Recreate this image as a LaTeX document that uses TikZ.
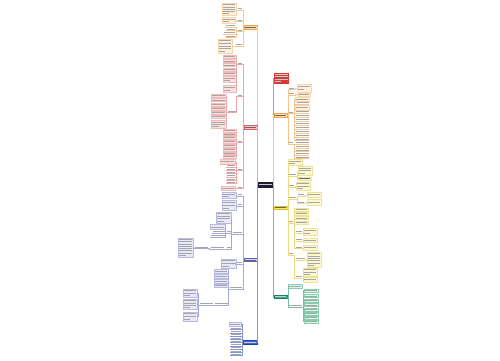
\documentclass[tikz,border=0pt]{standalone}
\definecolor{cNavy}{RGB}{28,28,58}
\definecolor{cOfill}{RGB}{253,224,176}
\definecolor{cOline}{RGB}{240,160,70}
\definecolor{cOleaf}{RGB}{254,240,220}
\definecolor{cOleafl}{RGB}{247,215,170}
\definecolor{cPfill}{RGB}{248,198,198}
\definecolor{cPline}{RGB}{225,95,95}
\definecolor{cPleaf}{RGB}{252,224,224}
\definecolor{cPleafl}{RGB}{243,185,185}
\definecolor{cLfill}{RGB}{216,216,242}
\definecolor{cLline}{RGB}{95,95,190}
\definecolor{cLleaf}{RGB}{232,232,250}
\definecolor{cLleafl}{RGB}{185,185,230}
\definecolor{cBfill}{RGB}{60,105,220}
\definecolor{cBline}{RGB}{35,65,175}
\definecolor{cRfill}{RGB}{218,55,55}
\definecolor{cYfill}{RGB}{250,232,110}
\definecolor{cYline}{RGB}{225,195,40}
\definecolor{cYleaf}{RGB}{253,247,210}
\definecolor{cYleafl}{RGB}{238,226,150}
\definecolor{cGfill}{RGB}{45,178,140}
\definecolor{cGline}{RGB}{25,130,100}
\definecolor{cGleaf}{RGB}{222,243,234}
\definecolor{cGleafl}{RGB}{135,205,175}
\tikzset{
  mmbase/.style={rectangle, inner sep=0pt, outer sep=0pt, line width=0.3pt},
  mainC/.style={mmbase, fill=cNavy, draw=cNavy},
  mainO/.style={mmbase, fill=cOfill, draw=cOline},
  mainP/.style={mmbase, fill=cPfill, draw=cPline},
  mainL/.style={mmbase, fill=cLfill, draw=cLline},
  mainB/.style={mmbase, fill=cBfill, draw=cBline},
  mainR/.style={mmbase, fill=cRfill, draw=cRfill},
  mainY/.style={mmbase, fill=cYfill, draw=cYline},
  mainG/.style={mmbase, fill=cGfill, draw=cGline},
  leafO/.style={mmbase, fill=cOleaf, draw=cOleafl},
  leafP/.style={mmbase, fill=cPleaf, draw=cPleafl},
  leafL/.style={mmbase, fill=cLleaf, draw=cLleafl},
  leafY/.style={mmbase, fill=cYleaf, draw=cYleafl},
  leafG/.style={mmbase, fill=cGleaf, draw=cGleafl},
  mmpt/.style={inner sep=0pt, outer sep=0pt, minimum height=0pt},
  txt/.style={line width=0.9pt, black!35},
  txtD/.style={line width=0.9pt, black!60},
  txtW/.style={line width=0.9pt, white!80!black},
  eO/.style={draw=cOline!60, line width=0.3pt},
  eP/.style={draw=cPline!55, line width=0.3pt},
  eL/.style={draw=cLline!55, line width=0.3pt},
  eB/.style={draw=cBline!55, line width=0.3pt},
  eR/.style={draw=cRfill!60, line width=0.3pt},
  eY/.style={draw=cYline!60, line width=0.3pt},
  eG/.style={draw=cGline!55, line width=0.3pt},
}
% box node with greeked text lines: name, style, x1, y1, x2, y2, text style
\newcommand\mmbox[7]{%
  \pgfmathsetmacro\mmw{(#5)-(#3)}\pgfmathsetmacro\mmh{(#6)-(#4)}%
  \node[#2, minimum width=\mmw pt, minimum height=\mmh pt, anchor=north west] (#1) at (#3,#4) {};
  \pgfmathtruncatemacro\mmn{max(1,floor((\mmh-1.2)/2.2))}%
  \pgfmathsetmacro\mms{(\mmh-1.2)/\mmn}%
  \foreach \i in {1,...,\mmn}{%
    \pgfmathsetmacro\mmy{(#4)+0.6+(\i-0.5)*\mms}%
    \pgfmathsetmacro\mmx{ifthenelse(\i==\mmn && \mmn>1, (#3)+1+0.5*(\mmw-2), (#5)-1)}%
    \draw[#7] ({(#3)+1},\mmy) -- (\mmx,\mmy);
  }%
}
% underlined one-line node: name, edge style, x1, y, x2
\newcommand\mmline[5]{%
  \pgfmathsetmacro\mmw{(#5)-(#3)}%
  \node[mmpt, minimum width=\mmw pt] (#1) at ({(#3+#5)/2},#4) {};
  \draw[txt] ({(#3)+0.5},{(#4)-1.1}) -- ({(#5)-0.5},{(#4)-1.1});
  \draw[#2] (#3,#4) -- (#5,#4);
}
\newcommand\lk[3]{\draw[#1] (#2.west) -- ++(-0.8,0) |- (#3.east);}
\newcommand\rk[3]{\draw[#1] (#2.east) -- ++(0.8,0) |- (#3.west);}
\begin{document}
\begin{tikzpicture}[x=1pt,y=-1pt]
\fill[white] (0,0) rectangle (500,360);
\useasboundingbox (0,0) rectangle (500,360);

\mmbox{C}{mainC}{258}{182.5}{272.5}{187}{txtW}

% left, orange
\mmbox{lo}{mainO}{244}{25.5}{257}{29.5}{txtD}
\draw[eO] (C.west) -- ++(-0.8,0) |- (lo.east);
\mmline{lo1}{eO}{237}{10}{242}
\mmline{lo2}{eO}{237}{21.5}{242}
\mmline{lo3}{eO}{237}{31.5}{242}
\mmline{lo4}{eO}{235}{46}{242}
\foreach \n in {lo1,lo2,lo3,lo4} \lk{eO}{lo}{\n};
\mmbox{lo1a}{leafO}{222}{3}{236}{15.5}{txt}
\mmbox{lo2a}{leafO}{222}{17.5}{235.5}{23.5}{txt}
\mmline{lo3a}{eO}{225}{27}{235}
\mmline{lo3b}{eO}{226}{30.5}{235}
\mmline{lo3c}{eO}{223}{34}{235}
\mmline{lo3d}{eO}{225}{37.5}{235}
\mmbox{lo4a}{leafO}{218}{39}{232}{53}{txt}
\lk{eO}{lo1}{lo1a}
\lk{eO}{lo2}{lo2a}
\foreach \n in {lo3a,lo3b,lo3c,lo3d} \lk{eO}{lo3}{\n};
\lk{eO}{lo4}{lo4a}

% left, pink
\mmbox{lp}{mainP}{244}{125}{257}{129}{txtD}
\draw[eP] (C.west) -- ++(-0.8,0) |- (lp.east);
\mmline{lp1}{eP}{237}{64.5}{242}
\mmline{lp2}{eP}{237}{96.5}{242}
\mmline{lp3}{eP}{237}{142.5}{242}
\mmline{lp4}{eP}{237}{170.5}{242}
\mmline{lp5}{eP}{237}{188.5}{242}
\foreach \n in {lp1,lp2,lp3,lp4,lp5} \lk{eP}{lp}{\n};
\foreach \y [count=\k] in {56.5,61,65,69.5,73.5}{
  \mmbox{lp1x\k}{leafP}{223}{\y-1.5}{236}{\y+1.5}{txt}
  \lk{eP}{lp1}{lp1x\k}
}
\mmbox{lp1f}{leafP}{223}{76.5}{236}{82.5}{txt}
\mmbox{lp1g}{leafP}{223}{85}{236}{92.5}{txt}
\lk{eP}{lp1}{lp1f}
\lk{eP}{lp1}{lp1g}
\mmline{lp2a}{eP}{227}{112.5}{236}
\lk{eP}{lp2}{lp2a}
\foreach \y [count=\k] in {95.7,100,104.3,108.3,112.7,116.7}{
  \mmbox{lp2x\k}{leafP}{211}{\y-1.5}{226}{\y+1.5}{txt}
  \lk{eP}{lp2a}{lp2x\k}
}
\mmbox{lp2g}{leafP}{211}{120.5}{226}{128.5}{txt}
\lk{eP}{lp2a}{lp2g}
\foreach \y [count=\k] in {130.7,134.2,137.7,141.5,145.5,149.3,153.1,156.7}{
  \mmbox{lp3x\k}{leafP}{223}{\y-1.4}{236}{\y+1.4}{txt}
  \lk{eP}{lp3}{lp3x\k}
}
\mmbox{lp4a}{leafP}{220}{159.5}{235}{164}{txt}
\lk{eP}{lp4}{lp4a}
\foreach \y [count=\k] in {167,170.3,173.6,177,180.3,183.5}{
  \mmline{lp4x\k}{eP}{226}{\y}{235}
  \lk{eP}{lp4}{lp4x\k}
}
\mmbox{lp5a}{leafP}{221}{186.3}{235}{190.3}{txt}
\lk{eP}{lp5}{lp5a}

% left, lavender
\mmbox{ll}{mainL}{244}{258.5}{257}{261.5}{txtD}
\draw[eL] (C.west) -- ++(-0.8,0) |- (ll.east);
\mmline{ll1}{eL}{237}{196}{242}
\mmline{ll2}{eL}{237}{206}{242}
\mmline{ll3}{eL}{232}{234}{242}
\mmline{ll4}{eL}{236}{264}{242}
\mmline{ll5}{eL}{229}{289}{242}
\foreach \n in {ll1,ll2,ll3,ll4,ll5} \lk{eL}{ll}{\n};
\mmbox{ll1a}{leafL}{222}{192.5}{236}{198.5}{txt}
\mmbox{ll2a}{leafL}{222}{200.5}{236}{210}{txt}
\lk{eL}{ll1}{ll1a}
\lk{eL}{ll2}{ll2a}
\mmbox{ll3a}{leafL}{216}{212}{231}{223}{txt}
\mmline{ll3b}{eL}{226}{233}{231}
\mmline{ll3c}{eL}{226}{249}{231}
\foreach \n in {ll3a,ll3b,ll3c} \lk{eL}{ll3}{\n};
\mmbox{ll3b1}{leafL}{210}{224.5}{225}{229.5}{txt}
\mmline{ll3b2}{eL}{212}{233}{225}
\mmline{ll3b3}{eL}{210}{237}{225}
\foreach \n in {ll3b1,ll3b2,ll3b3} \lk{eL}{ll3b}{\n};
\mmline{ll3d}{eL}{210}{249}{224}
\mmline{ll3e}{eL}{194}{248.5}{208}
\mmbox{ll3f}{leafL}{178}{238}{193}{257}{txt}
\lk{eL}{ll3c}{ll3d}
\lk{eL}{ll3d}{ll3e}
\lk{eL}{ll3e}{ll3f}
\mmbox{ll4a}{leafL}{221}{259}{236}{268}{txt}
\lk{eL}{ll4}{ll4a}
\foreach \y [count=\k] in {271,276,281,285.5}{
  \mmbox{ll5x\k}{leafL}{214}{\y-1.7}{228}{\y+1.7}{txt}
  \lk{eL}{ll5}{ll5x\k}
}
\mmline{ll5e}{eL}{214}{305}{228}
\mmline{ll5f}{eL}{199}{305}{213}
\lk{eL}{ll5}{ll5e}
\lk{eL}{ll5e}{ll5f}
\mmbox{ll5g}{leafL}{183}{289}{197}{297.5}{txt}
\mmbox{ll5h}{leafL}{183}{299}{197}{309.5}{txt}
\mmbox{ll5i}{leafL}{183}{312}{197}{321}{txt}
\foreach \n in {ll5g,ll5h,ll5i} \lk{eL}{ll5f}{\n};

% left, blue
\mmbox{lb}{mainB}{243}{340}{257}{344.5}{txtW}
\draw[eB] (C.west) -- ++(-0.8,0) |- (lb.east);
\mmbox{lb0}{leafL}{229}{322}{241}{326.5}{txt}
\lk{eB}{lb}{lb0}
\foreach \y [count=\k] in {329.5,332.7,336,339.2,342.5,345.7,349,352.2,355.5}{
  \mmline{lbx\k}{eB}{230}{\y}{241}
  \lk{eB}{lb}{lbx\k}
}

% right, red
\mmbox{rr}{mainR}{274}{73}{288.5}{83}{txtW}
\draw[eR] (C.east) -- ++(0.8,0) |- (rr.west);

% right, orange
\mmbox{ro}{mainO}{274}{113.5}{287}{117}{txtD}
\draw[eO] (C.east) -- ++(0.8,0) |- (ro.west);
\mmline{ro1}{eO}{288.5}{89.5}{294}
\mmline{ro2}{eO}{288.5}{95}{294}
\mmline{ro3}{eO}{288.5}{113.5}{293}
\mmline{ro4}{eO}{288.5}{144}{293}
\foreach \n in {ro1,ro2,ro3,ro4} \rk{eO}{ro}{\n};
\mmbox{ro1a}{leafO}{297}{84.3}{311}{91.7}{txt}
\mmbox{ro2a}{leafO}{298}{92.8}{310}{95.8}{txt}
\rk{eO}{ro1}{ro1a}
\rk{eO}{ro2}{ro2a}
\mmbox{ro3a}{leafO}{295}{97.5}{309}{101.5}{txt}
\mmline{ro3b}{eO}{296}{104}{309}
\mmbox{ro3c}{leafO}{295}{105.5}{309}{110}{txt}
\foreach \n in {ro3a,ro3b,ro3c} \rk{eO}{ro3}{\n};
\foreach \y [count=\k] in {113,117,121,125,129,133,137,140.5}{
  \mmline{ro3x\k}{eO}{295}{\y}{309}
  \rk{eO}{ro3}{ro3x\k}
}
\foreach \y [count=\k] in {144,147.7,151.5,155,158.5}{
  \mmline{ro4x\k}{eO}{295}{\y}{309}
  \rk{eO}{ro4}{ro4x\k}
}

% right, yellow
\mmbox{ry}{mainY}{274}{206}{287}{209.5}{txtD}
\draw[eY] (C.east) -- ++(0.8,0) |- (ry.west);
\mmbox{ry1}{leafY}{288}{159.5}{302}{165.5}{txt}
\mmline{ry2}{eY}{288}{176}{296}
\mmline{ry3}{eY}{288}{187}{294}
\mmline{ry4}{eY}{288}{199}{296}
\mmline{ry5}{eY}{288}{223}{293}
\mmline{ry6}{eY}{288}{255}{293}
\foreach \n in {ry1,ry2,ry3,ry4,ry5,ry6} \rk{eY}{ry}{\n};
\mmbox{ry2a}{leafY}{298}{166}{312}{175.5}{txt}
\mmbox{ry2b}{leafY}{298}{177}{311}{180.5}{txtD}
\rk{eY}{ry2}{ry2a}
\rk{eY}{ry2}{ry2b}
\mmbox{ry3a}{leafY}{296}{182}{310}{190}{txt}
\rk{eY}{ry3}{ry3a}
\mmline{ry4a}{eY}{297}{196}{304}
\mmline{ry4b}{eY}{297}{203.5}{304}
\mmbox{ry4c}{leafY}{307}{192}{321}{197.5}{txt}
\mmbox{ry4d}{leafY}{307}{199.5}{321}{205}{txt}
\rk{eY}{ry4}{ry4a}
\rk{eY}{ry4}{ry4b}
\rk{eY}{ry4a}{ry4c}
\rk{eY}{ry4b}{ry4d}
\foreach \y [count=\k] in {209.5,213.5,218,222.5}{
  \mmbox{ry5x\k}{leafY}{294.5}{\y-1.5}{308}{\y+1.5}{txt}
  \rk{eY}{ry5}{ry5x\k}
}
\mmline{ry5a}{eY}{295}{233}{302}
\mmline{ry5b}{eY}{295}{241}{302}
\mmline{ry5c}{eY}{295}{248.5}{302}
\foreach \n in {ry5a,ry5b,ry5c} \rk{eY}{ry5}{\n};
\mmbox{ry5d}{leafY}{303}{228}{317}{235}{txt}
\mmbox{ry5e}{leafY}{303}{238}{317}{242.5}{txt}
\mmbox{ry5f}{leafY}{303}{245}{317}{250.5}{txt}
\rk{eY}{ry5a}{ry5d}
\rk{eY}{ry5b}{ry5e}
\rk{eY}{ry5c}{ry5f}
\mmline{ry6a}{eY}{295}{260}{305}
\mmline{ry6b}{eY}{295}{278}{302}
\rk{eY}{ry6}{ry6a}
\rk{eY}{ry6}{ry6b}
\mmbox{ry6c}{leafY}{307}{252}{321}{267}{txt}
\mmbox{ry6d}{leafY}{303}{268}{317}{276.5}{txt}
\mmbox{ry6e}{leafY}{303}{277.5}{317}{282}{txt}
\rk{eY}{ry6a}{ry6c}
\rk{eY}{ry6b}{ry6d}
\rk{eY}{ry6b}{ry6e}

% right, green
\mmbox{rg}{mainG}{274}{295.3}{287}{298.3}{txtW}
\draw[eG] (C.east) -- ++(0.8,0) |- (rg.west);
\mmbox{rg1}{leafG}{288}{284}{302}{288.5}{txt}
\mmline{rg2}{eG}{288}{307}{302}
\rk{eG}{rg}{rg1}
\rk{eG}{rg}{rg2}
\foreach \y [count=\k] in {290.5,296,300.8,305,309.3,313.3,317.3,321.5}{
  \mmbox{rg2x\k}{leafG}{304}{\y-1.5}{318}{\y+1.5}{txt}
  \rk{eG}{rg2}{rg2x\k}
}
\end{tikzpicture}
\end{document}
